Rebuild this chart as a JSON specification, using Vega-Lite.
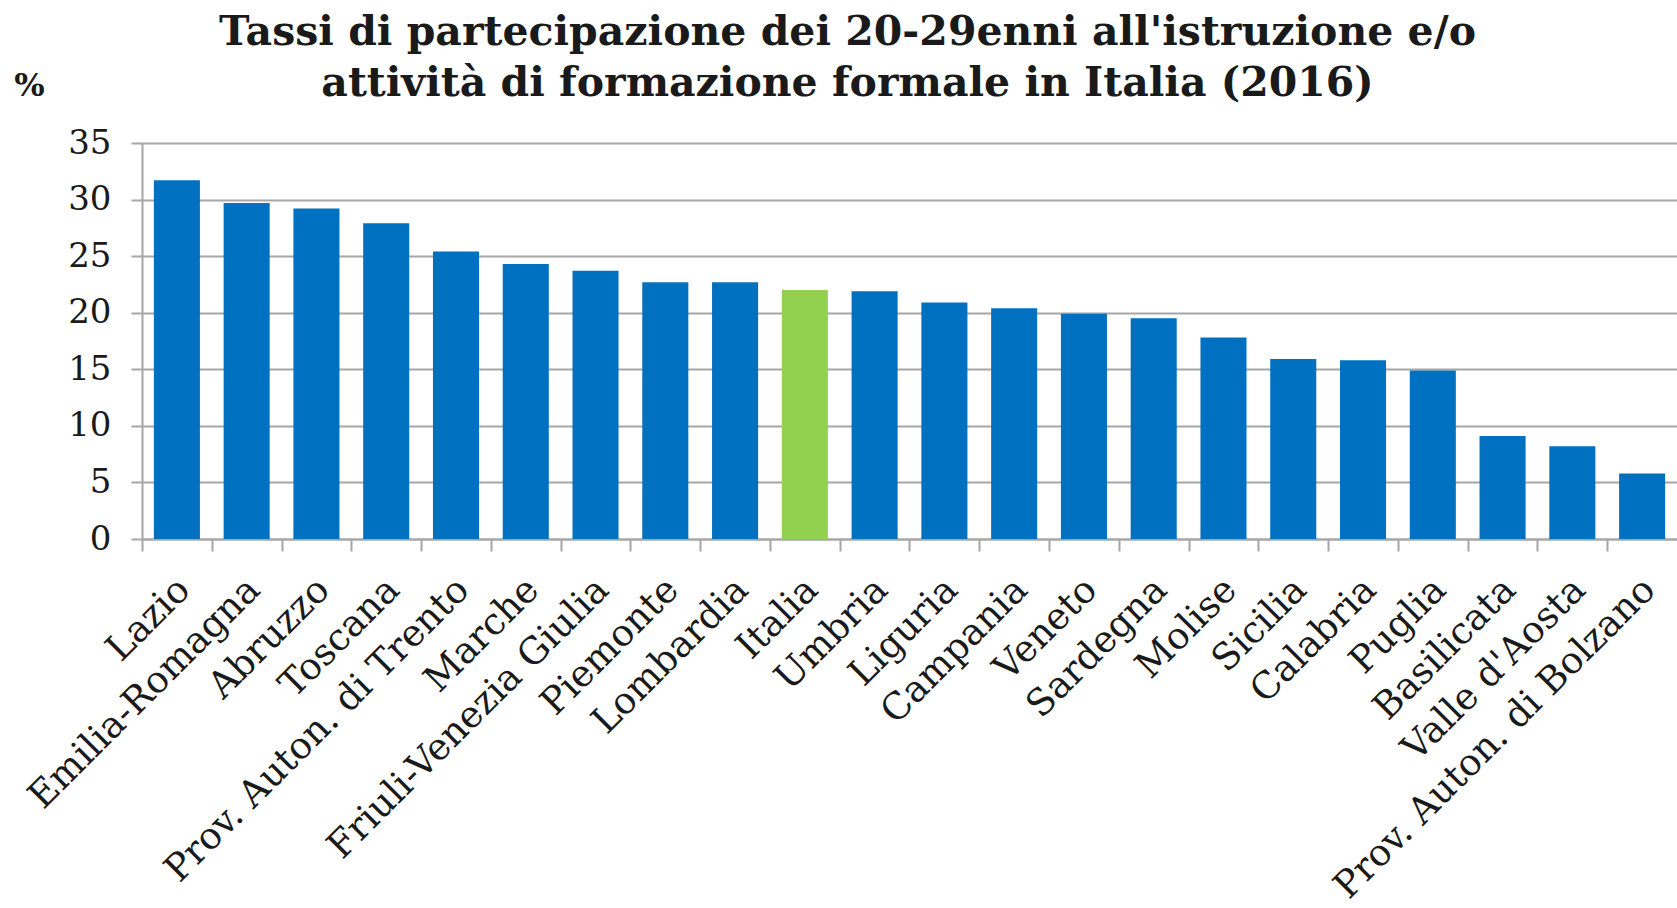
{
  "$schema": "https://vega.github.io/schema/vega-lite/v6.json",
  "width": 1535,
  "height": 396,
  "autosize": "none",
  "padding": {"left": 142, "top": 143, "right": 0, "bottom": 369},
  "background": "white",
  "title": {
    "text": ["Tassi di partecipazione dei 20-29enni all'istruzione e/o", "attività di formazione formale in Italia (2016)"],
    "font": "DejaVu Serif",
    "fontSize": 41,
    "fontWeight": "bold",
    "color": "#1a1a1a",
    "anchor": "middle",
    "lineHeight": 51,
    "dx": -62,
    "dy": 46,
    "offset": 10
  },
  "data": {
    "values": [
      {"regione": "Lazio", "valore": 31.7, "tipo": "Regione"},
      {"regione": "Emilia-Romagna", "valore": 29.7, "tipo": "Regione"},
      {"regione": "Abruzzo", "valore": 29.2, "tipo": "Regione"},
      {"regione": "Toscana", "valore": 27.9, "tipo": "Regione"},
      {"regione": "Prov. Auton. di Trento", "valore": 25.4, "tipo": "Regione"},
      {"regione": "Marche", "valore": 24.3, "tipo": "Regione"},
      {"regione": "Friuli-Venezia Giulia", "valore": 23.7, "tipo": "Regione"},
      {"regione": "Piemonte", "valore": 22.7, "tipo": "Regione"},
      {"regione": "Lombardia", "valore": 22.7, "tipo": "Regione"},
      {"regione": "Italia", "valore": 22.0, "tipo": "Italia"},
      {"regione": "Umbria", "valore": 21.9, "tipo": "Regione"},
      {"regione": "Liguria", "valore": 20.9, "tipo": "Regione"},
      {"regione": "Campania", "valore": 20.4, "tipo": "Regione"},
      {"regione": "Veneto", "valore": 19.9, "tipo": "Regione"},
      {"regione": "Sardegna", "valore": 19.5, "tipo": "Regione"},
      {"regione": "Molise", "valore": 17.8, "tipo": "Regione"},
      {"regione": "Sicilia", "valore": 15.9, "tipo": "Regione"},
      {"regione": "Calabria", "valore": 15.8, "tipo": "Regione"},
      {"regione": "Puglia", "valore": 14.9, "tipo": "Regione"},
      {"regione": "Basilicata", "valore": 9.1, "tipo": "Regione"},
      {"regione": "Valle d'Aosta", "valore": 8.2, "tipo": "Regione"},
      {"regione": "Prov. Auton. di Bolzano", "valore": 5.8, "tipo": "Regione"}
    ]
  },
  "mark": {"type": "bar"},
  "encoding": {
    "x": {
      "field": "regione",
      "type": "nominal",
      "sort": null,
      "scale": {"paddingInner": 0.34, "paddingOuter": 0.17},
      "axis": {
        "title": null,
        "labelAngle": -45,
        "labelAlign": "right",
        "labelBaseline": "top",
        "labelFont": "DejaVu Serif",
        "labelFontSize": 37,
        "labelColor": "#1a1a1a",
        "labelLimit": 800,
        "labelOverlap": false,
        "labelPadding": 20,
        "bandPosition": 0.5,
        "tickOffset": -34.9,
        "labelOffset": 29,
        "tickSize": 12,
        "tickColor": "#a6a6a6",
        "tickWidth": 2,
        "domainColor": "#a6a6a6",
        "domainWidth": 2,
        "grid": false
      }
    },
    "y": {
      "field": "valore",
      "type": "quantitative",
      "scale": {"domain": [0, 35], "nice": false},
      "axis": {
        "values": [0, 5, 10, 15, 20, 25, 30, 35],
        "grid": true,
        "gridColor": "#a6a6a6",
        "gridWidth": 2,
        "domain": true,
        "domainColor": "#a6a6a6",
        "domainWidth": 2,
        "tickSize": 11,
        "tickColor": "#a6a6a6",
        "tickWidth": 2,
        "labelFont": "DejaVu Serif",
        "labelFontSize": 34,
        "labelColor": "#1a1a1a",
        "labelPadding": 20,
        "labelBaseline": "middle",
        "labelDy": 6,
        "title": "%",
        "titleAngle": 0,
        "titleX": -113,
        "titleY": -48,
        "titleAlign": "center",
        "titleBaseline": "alphabetic",
        "titleFont": "DejaVu Serif",
        "titleFontSize": 32,
        "titleFontWeight": "bold",
        "titleColor": "#1a1a1a"
      }
    },
    "color": {
      "field": "tipo",
      "type": "nominal",
      "scale": {"domain": ["Regione", "Italia"], "range": ["#0070C0", "#92D050"]},
      "legend": null
    }
  },
  "config": {"view": {"stroke": null}}
}
